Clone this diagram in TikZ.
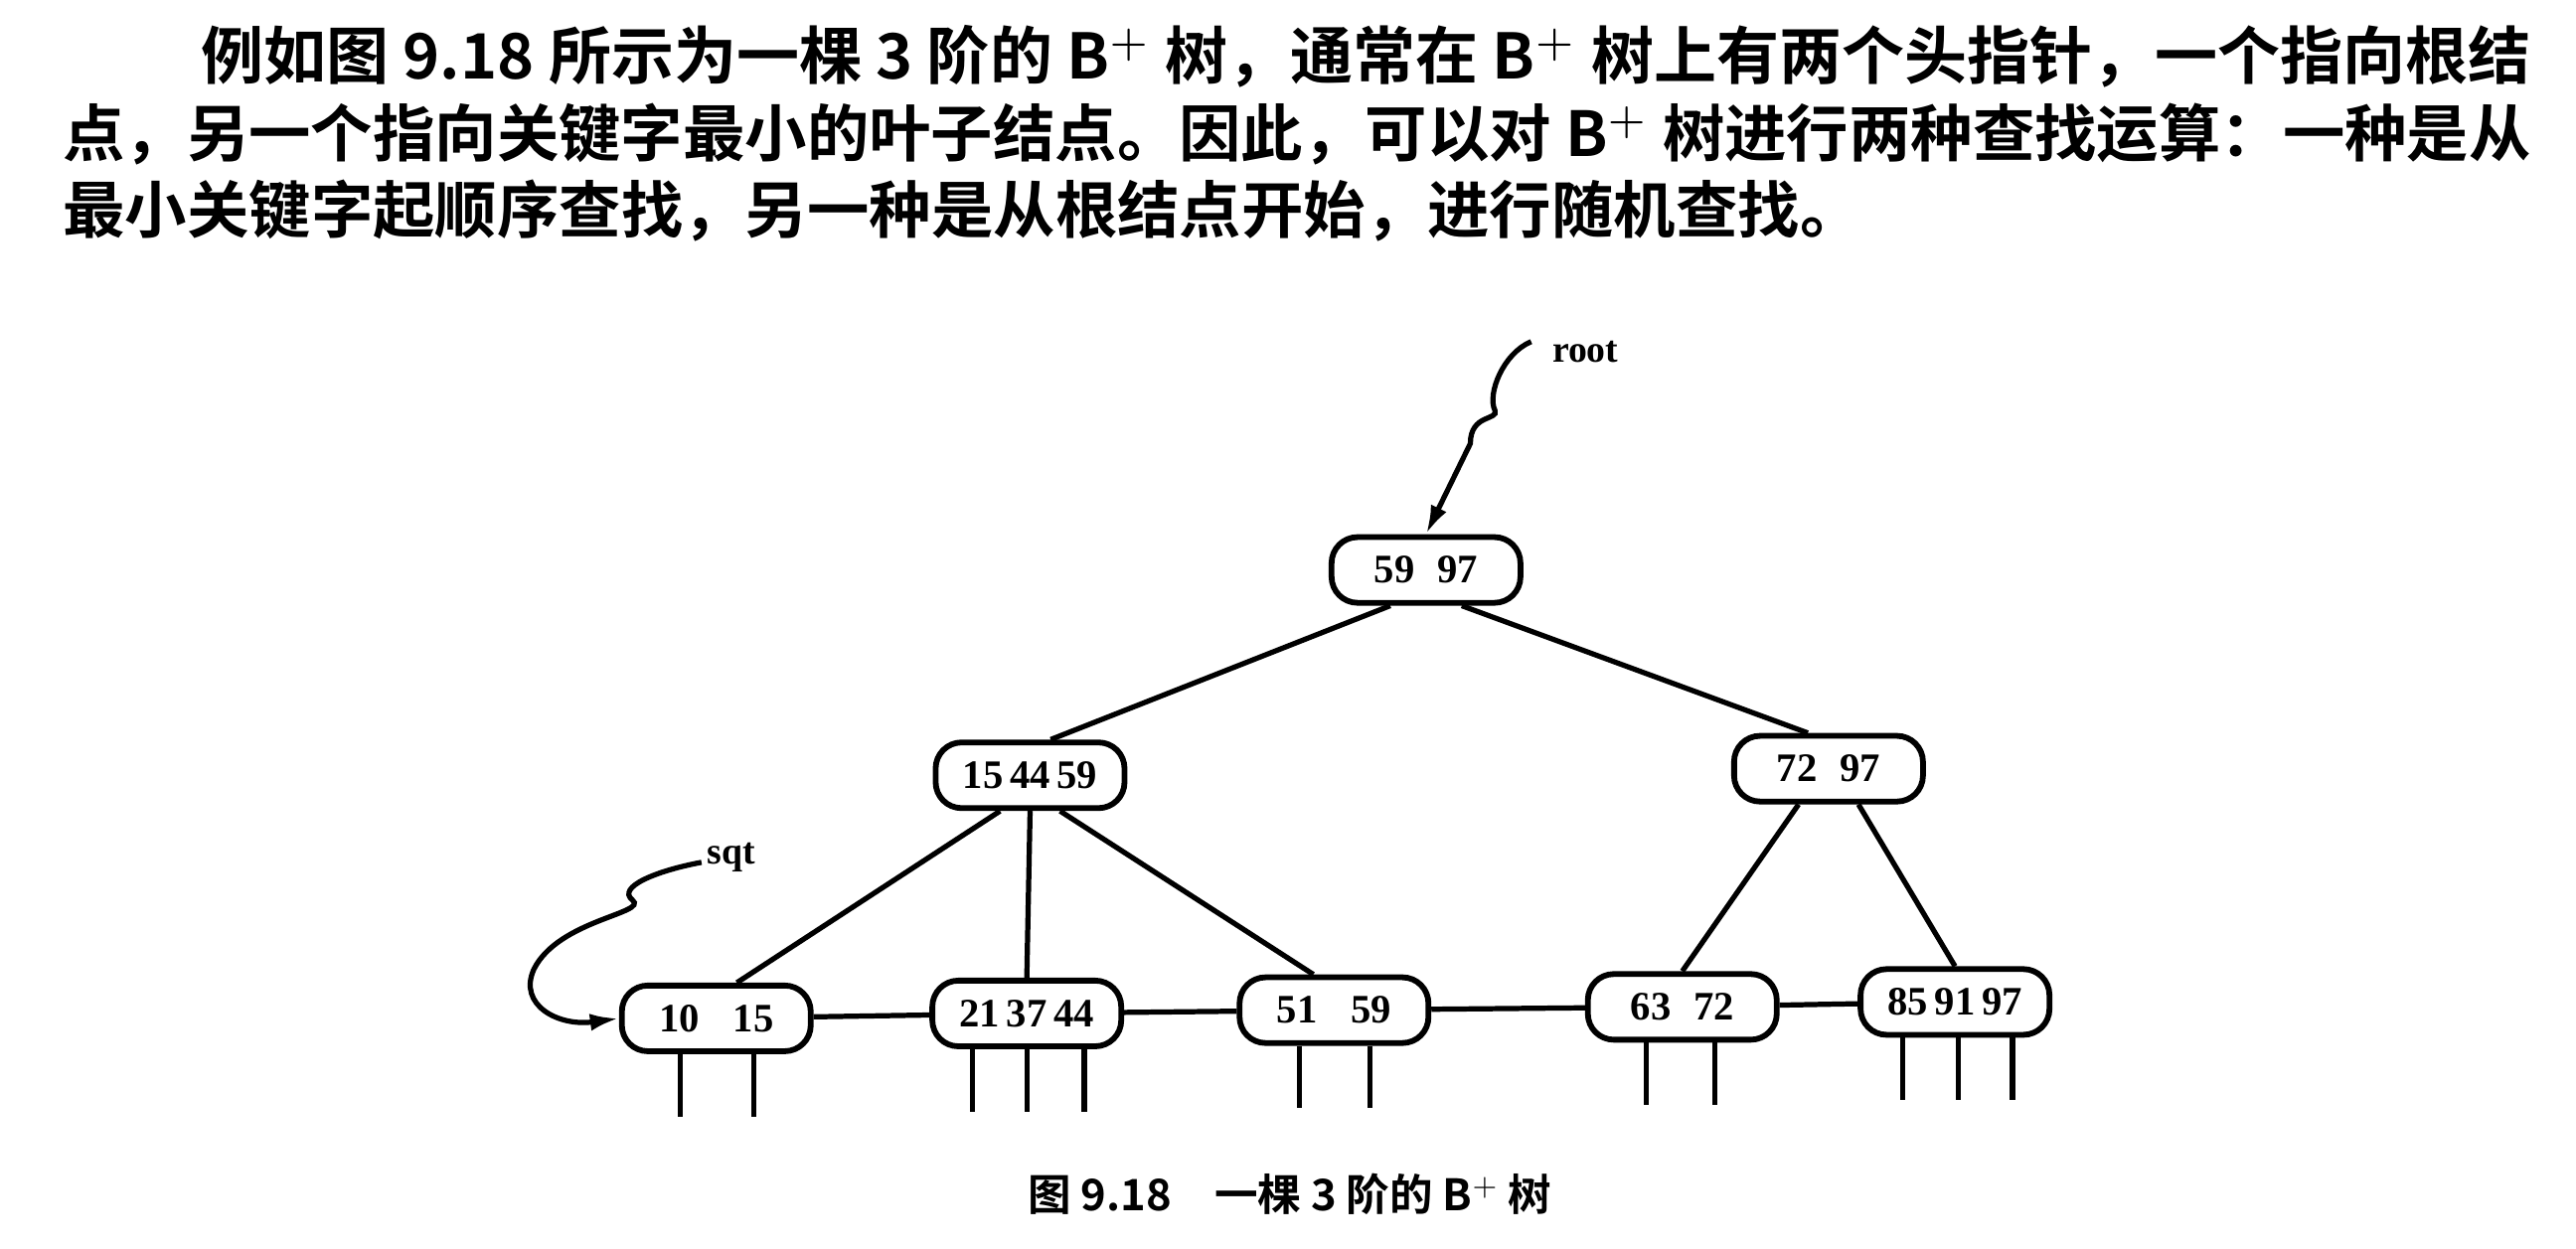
\documentclass[tikz,border=0pt]{standalone}
\usepackage{fontspec}
\usepackage{graphicx}
\usetikzlibrary{arrows.meta}
\setmainfont{Liberation Serif}
\newfontfamily\cjk{Noto Sans CJK SC}
\newfontfamily\cjkb{Noto Sans CJK SC Bold}
\begin{document}
\begin{tikzpicture}[x=0.02cm,y=-0.02cm,
  bn/.style={draw,line width=2pt,rounded corners=9pt,minimum width=2.3cm,minimum height=0.8cm,inner sep=0pt,font=\bfseries\fontsize{14}{14}\selectfont},
  ln/.style={line width=1.8pt}]
\useasboundingbox (0,0) rectangle (1568,760);
\node[anchor=base west,inner sep=0] (l1) at (122,48) {\resizebox{1418\dimexpr0.02cm\relax}{!}{\cjkb 例如图 9.18 所示为一棵 3 阶的 B$^+$ 树，通常在 B$^+$ 树上有两个头指针，一个指向根结}};
\node[anchor=base west,inner sep=0] (l2) at (38,95) {\resizebox{1502\dimexpr0.02cm\relax}{!}{\cjkb 点，另一个指向关键字最小的叶子结点。因此，可以对 B$^+$ 树进行两种查找运算：一种是从}};
\node[anchor=base west,inner sep=0] (l3) at (38,142) {\resizebox{1095\dimexpr0.02cm\relax}{!}{\cjkb 最小关键字起顺序查找，另一种是从根结点开始，进行随机查找。}};
\node[bn] (r) at (868,347) {59\;\;97};
\node[bn] (a) at (627,472) {15\,44\,59};
\node[bn] (b) at (1113,468) {72\;\;97};
\node[bn] (c1) at (436,620) {10\;\;\;15};
\node[bn] (c2) at (625,617) {21\,37\,44};
\node[bn] (c3) at (812,615) {51\;\;\;59};
\node[bn] (c4) at (1024,613) {63\;\;72};
\node[bn] (c5) at (1190,610) {85\,91\,97};
\draw[ln] (r.225) -- (a.60);
\draw[ln] (r.-45) -- (b.120);
\draw[ln] (a.230) -- (c1.60);
\draw[ln] (a.south) -- (c2.north);
\draw[ln] (a.-50) -- (c3.120);
\draw[ln] (b.230) -- (c4.north);
\draw[ln] (b.-50) -- (c5.north);
\draw[ln] (c1) -- (c2) -- (c3) -- (c4) -- (c5);
\foreach \n/\xs in {c1/{414,459},c2/{592,625,660},c3/{791,834},c4/{1002,1044},c5/{1158,1192,1225}}
  \foreach \x in \xs \draw[ln] (\x,0 |- \n.south) -- ++(0,38);
\node[font=\bfseries\fontsize{13}{13}\selectfont] (rt) at (965,214) {root};
\coordinate (rs) at (932,208);
\draw[ln,-{Latex[length=10pt,width=6pt]}] (rs) .. controls (915,215) and (905,240) .. (910,250) .. controls (912,256) and (895,252) .. (895,270) -- (r.north);
\node[font=\bfseries\fontsize{13}{13}\selectfont] (sq) at (445,522) {sqt};
\draw[ln,-{Latex[length=10pt,width=6pt]}] (427,525) .. controls (400,530) and (375,540) .. (385,548) .. controls (395,556) and (340,560) .. (325,590) .. controls (315,612) and (340,625) .. (c1.west);
\node[anchor=base,font=\cjkb\fontsize{15}{15}\selectfont] (cap) at (785,737) {图 9.18\quad 一棵 3 阶的 B$^+$ 树};
\end{tikzpicture}
\end{document}
